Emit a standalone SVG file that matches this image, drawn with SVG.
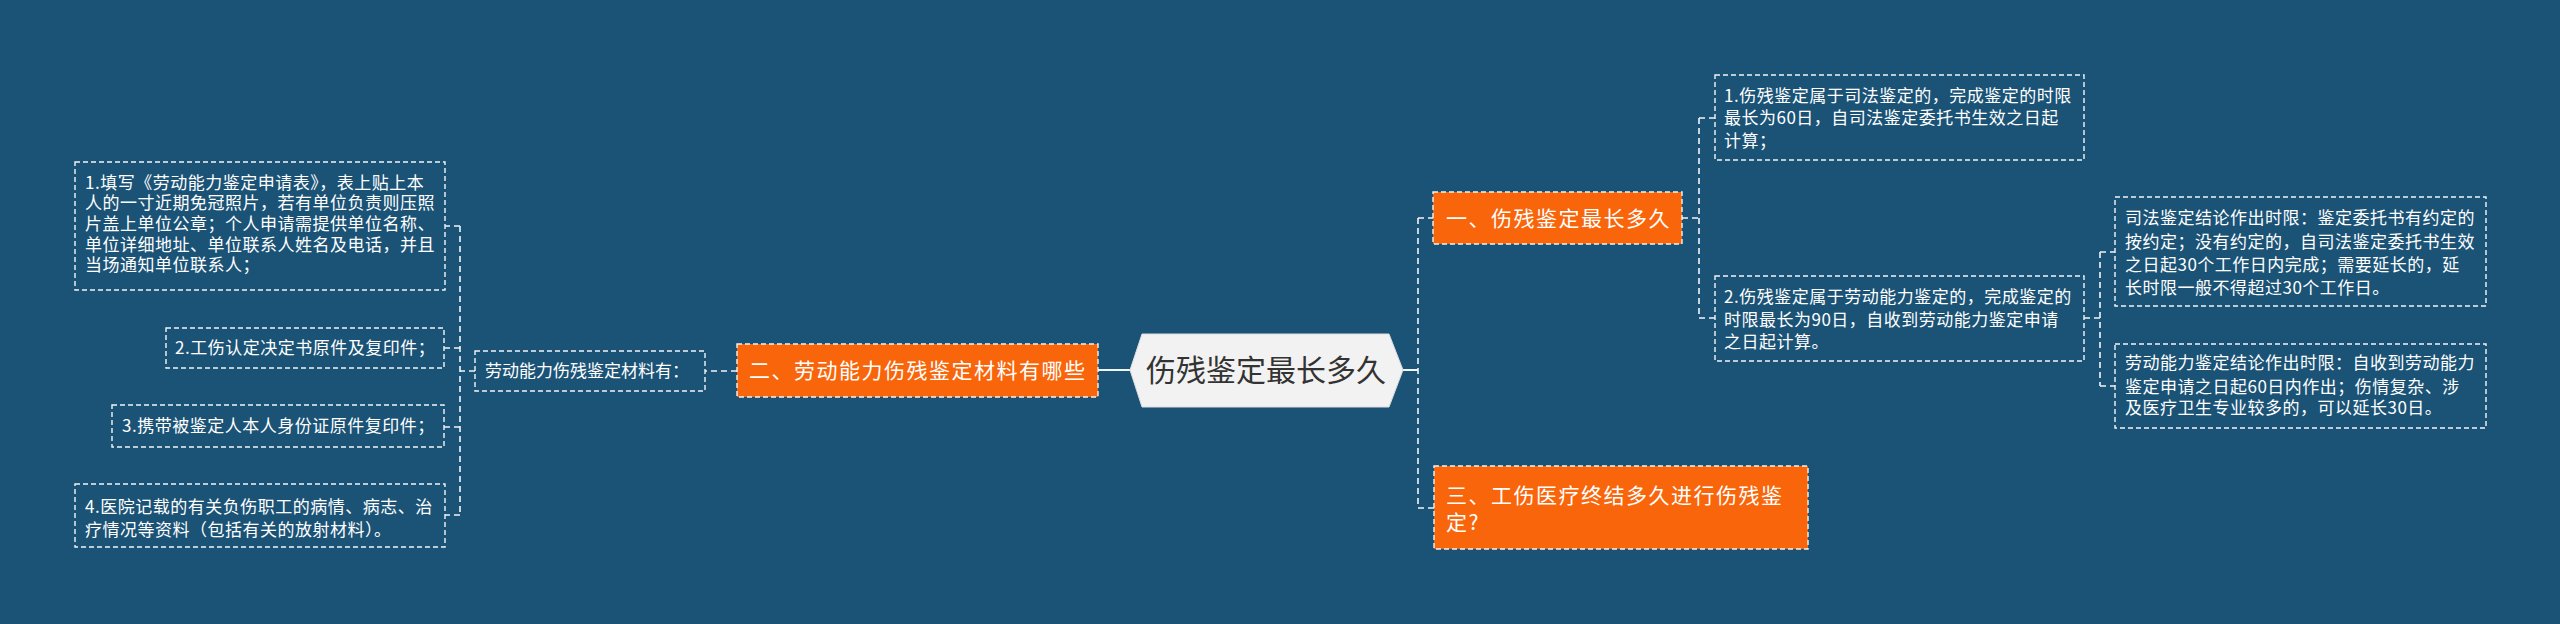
<svg xmlns="http://www.w3.org/2000/svg" width="2560" height="624" viewBox="0 0 2560 624">
<style>
.bg{fill:#1b5377}
.box{fill:none;stroke:#f2f5f7;stroke-width:1.4;stroke-dasharray:5 3}
.obox{fill:#f9650a;stroke:#f2f5f7;stroke-width:1.4;stroke-dasharray:5 3}
.t{font-family:"Noto Sans CJK SC","Noto Sans",sans-serif;font-size:17px;letter-spacing:0.5px;fill:#ffffff}
.ot{font-family:"Noto Sans CJK SC","Noto Sans",sans-serif;font-size:21px;letter-spacing:1.5px;fill:#ffffff}
.ct{font-family:"Noto Sans CJK SC","Noto Sans",sans-serif;font-size:30px;fill:#333333}
.dash{fill:none;stroke:#f2f5f7;stroke-width:1.6;stroke-dasharray:6 4}
.solid{fill:none;stroke:#f2f5f7;stroke-width:2}
</style>
<rect class="bg" x="0" y="0" width="2560" height="624"/>
<g id="connectors">
<path class="solid" d="M1098,370 H1130"/>
<path class="solid" d="M1403,370 H1418"/>
<path class="dash" d="M737,371 H705"/>
<path class="dash" d="M475,371 H460"/>
<path class="dash" d="M460,226 V515"/>
<path class="dash" d="M460,226 H445 M460,348 H444 M460,427 H444 M460,515 H445"/>
<path class="dash" d="M1418,218 V508 M1418,218 H1433 M1418,508 H1434"/>
<path class="dash" d="M1682,218 H1699 M1699,118 V318 M1699,118 H1715 M1699,318 H1715"/>
<path class="dash" d="M2084,318 H2100 M2100,252 V386 M2100,252 H2115 M2100,386 H2115"/>
</g>
<g id="center">
<polygon points="1130,370 1142,334 1389,334 1403,370 1389,407 1142,407" fill="#f2f2f2" stroke="#dcdcdc" stroke-width="1"/>
<text class="ct" x="1266" y="381" text-anchor="middle">伤残鉴定最长多久</text>
</g>
<g id="node-er">
<rect class="obox" x="737" y="344" width="361" height="53"/>
<text class="ot" x="749" y="378">二、劳动能力伤残鉴定材料有哪些</text>
</g>
<g id="node-label">
<rect class="box" x="475" y="351" width="230" height="40"/>
<text class="t" x="485" y="377" style="letter-spacing:0px">劳动能力伤残鉴定材料有：</text>
</g>
<g id="left-1">
<rect class="box" x="75" y="162" width="370" height="128"/>
<text class="t" x="85" y="189">1.填写《劳动能力鉴定申请表》，表上贴上本</text>
<text class="t" x="85" y="209">人的一寸近期免冠照片，若有单位负责则压照</text>
<text class="t" x="85" y="230">片盖上单位公章；个人申请需提供单位名称、</text>
<text class="t" x="85" y="251">单位详细地址、单位联系人姓名及电话，并且</text>
<text class="t" x="85" y="271">当场通知单位联系人；</text>
</g>
<g id="left-2">
<rect class="box" x="166" y="328" width="278" height="40"/>
<text class="t" x="175" y="354">2.工伤认定决定书原件及复印件；</text>
</g>
<g id="left-3">
<rect class="box" x="112" y="405" width="332" height="42"/>
<text class="t" x="122" y="432">3.携带被鉴定人本人身份证原件复印件；</text>
</g>
<g id="left-4">
<rect class="box" x="75" y="484" width="370" height="63"/>
<text class="t" x="85" y="513">4.医院记载的有关负伤职工的病情、病志、治</text>
<text class="t" x="85" y="536">疗情况等资料（包括有关的放射材料）。</text>
</g>
<g id="node-yi">
<rect class="obox" x="1433" y="192" width="249" height="52"/>
<text class="ot" x="1446" y="225.5">一、伤残鉴定最长多久</text>
</g>
<g id="node-san">
<rect class="obox" x="1434" y="466" width="374" height="83"/>
<text class="ot" x="1446" y="502.5">三、工伤医疗终结多久进行伤残鉴</text>
<text class="ot" x="1446" y="529.5">定?</text>
</g>
<g id="right-1">
<rect class="box" x="1715" y="75" width="369" height="85"/>
<text class="t" x="1724" y="102">1.伤残鉴定属于司法鉴定的，完成鉴定的时限</text>
<text class="t" x="1724" y="124">最长为60日，自司法鉴定委托书生效之日起</text>
<text class="t" x="1724" y="147">计算；</text>
</g>
<g id="right-2">
<rect class="box" x="1715" y="276" width="369" height="85"/>
<text class="t" x="1724" y="303">2.伤残鉴定属于劳动能力鉴定的，完成鉴定的</text>
<text class="t" x="1724" y="326">时限最长为90日，自收到劳动能力鉴定申请</text>
<text class="t" x="1724" y="348">之日起计算。</text>
</g>
<g id="right-2a">
<rect class="box" x="2115" y="197" width="371" height="109"/>
<text class="t" x="2125" y="224">司法鉴定结论作出时限：鉴定委托书有约定的</text>
<text class="t" x="2125" y="248">按约定；没有约定的，自司法鉴定委托书生效</text>
<text class="t" x="2125" y="271">之日起30个工作日内完成；需要延长的，延</text>
<text class="t" x="2125" y="294">长时限一般不得超过30个工作日。</text>
</g>
<g id="right-2b">
<rect class="box" x="2115" y="344" width="371" height="84"/>
<text class="t" x="2125" y="369">劳动能力鉴定结论作出时限：自收到劳动能力</text>
<text class="t" x="2125" y="393">鉴定申请之日起60日内作出；伤情复杂、涉</text>
<text class="t" x="2125" y="414">及医疗卫生专业较多的，可以延长30日。</text>
</g>
</svg>
